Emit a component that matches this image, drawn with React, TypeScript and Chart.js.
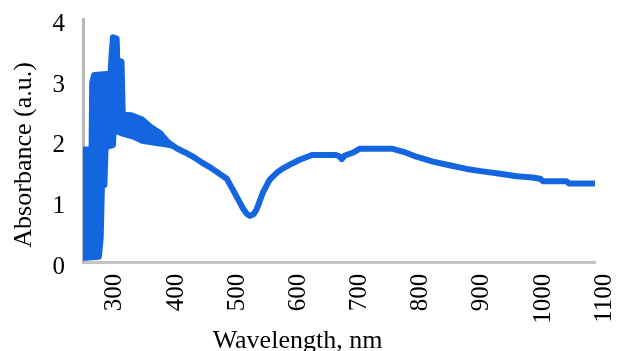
import React, { useEffect, useRef } from 'react';
import { Chart, registerables } from 'chart.js';

Chart.register(...registerables);

// Noisy UV region (248–395 nm): upper edge of the scatter band
const upperWavelengths = [248, 262, 263, 266, 293, 295, 297, 303, 304, 311, 313, 327, 345, 347, 360, 375, 387, 395];
const upperAbsorbance = [1.86, 1.86, 2.95, 3.08, 3.1, 3.45, 3.7, 3.68, 3.32, 3.3, 2.43, 2.42, 2.35, 2.33, 2.22, 2.12, 1.98, 1.92];

// Noisy UV region (248–395 nm): lower edge of the scatter band
const lowerWavelengths = [248, 274, 277, 279, 283, 285, 297, 300, 305, 313, 330, 345, 365, 385, 395];
const lowerAbsorbance = [0.08, 0.1, 0.42, 1.28, 1.28, 1.9, 1.93, 2.58, 2.15, 2.12, 2.07, 2.0, 1.97, 1.94, 1.92];

// Smooth visible / NIR region
const wavelengths = [
  395, 401, 415, 428, 440, 455, 470, 483, 493, 500, 509, 516, 521, 527, 532, 542, 553,
  565, 575, 590, 602, 615, 623, 640, 660, 667, 671, 676, 690, 700, 754, 775, 793, 820,
  847, 875, 901, 930, 957, 983, 995, 1000, 1038, 1043, 1087,
];
const absorbance = [
  1.92, 1.88, 1.81, 1.74, 1.66, 1.57, 1.47, 1.38, 1.2, 1.07, 0.9, 0.8, 0.77, 0.8, 0.88, 1.15, 1.36,
  1.48, 1.55, 1.63, 1.69, 1.74, 1.77, 1.77, 1.77, 1.75, 1.7, 1.76, 1.81, 1.87, 1.87, 1.81, 1.74, 1.66,
  1.6, 1.54, 1.5, 1.46, 1.42, 1.4, 1.38, 1.34, 1.34, 1.3, 1.3,
];

const xTickValues = [300, 400, 500, 600, 700, 800, 900, 1000, 1100];
const yTickValues = [0, 1, 2, 3, 4];
const xTitle = 'Wavelength, nm';
const yTitle = 'Absorbance (a.u.)';

const FONT = '"Liberation Serif", "Times New Roman", serif';
const BLUE = '#1466e0';

const yTitlePlugin = {
  id: 'yTitlePlugin',
  afterDraw(chart: any) {
    const { ctx, chartArea } = chart;
    ctx.save();
    ctx.translate(24, (chartArea.top + chartArea.bottom) / 2 + 14);
    ctx.rotate(-Math.PI / 2);
    ctx.font = `26px ${FONT}`;
    ctx.fillStyle = '#000';
    ctx.textAlign = 'center';
    ctx.textBaseline = 'middle';
    ctx.fillText(yTitle, 0, 0);
    ctx.restore();
  },
};

const toPoints = (xs: number[], ys: number[]) => xs.map((x, i) => ({ x, y: ys[i] }));

export default function App() {
  const ref = useRef<HTMLCanvasElement>(null);

  useEffect(() => {
    document.body.style.margin = '0';
    // closed outline of the noisy band: along the upper edge, then back along the lower edge
    const bandOutline = [
      ...toPoints(upperWavelengths, upperAbsorbance),
      ...toPoints(lowerWavelengths, lowerAbsorbance).reverse(),
    ];
    const common = {
      borderColor: BLUE,
      backgroundColor: BLUE,
      borderWidth: 6,
      pointRadius: 0,
      tension: 0,
      borderJoinStyle: 'round',
    };
    const chart = new Chart(ref.current as HTMLCanvasElement, {
      type: 'line',
      data: {
        datasets: [
          { ...common, data: bandOutline, fill: 'shape' },
          { ...common, data: toPoints(wavelengths, absorbance), fill: false },
        ],
      },
      options: {
        responsive: false,
        animation: false,
        devicePixelRatio: 1,
        layout: { padding: { top: 19, right: 23, left: 0, bottom: 0 } },
        plugins: {
          legend: { display: false },
          tooltip: { enabled: false },
          title: {
            display: true,
            position: 'bottom',
            text: xTitle,
            color: '#000',
            font: { family: FONT, size: 26, weight: 'normal', lineHeight: 1.2 },
            padding: 0,
          },
        },
        scales: {
          x: {
            type: 'linear',
            min: 248,
            max: 1085,
            afterBuildTicks: (axis: any) => {
              axis.ticks = xTickValues.map((v) => ({ value: v }));
            },
            afterFit: (s: any) => {
              s.height = 63;
              s.paddingLeft = 0;
              s.paddingRight = 0;
            },
            grid: { display: false, drawTicks: false },
            border: { display: true, color: '#c4c4c4', width: 3 },
            ticks: {
              minRotation: 90,
              maxRotation: 90,
              autoSkip: false,
              padding: 11,
              color: '#000',
              font: { family: FONT, size: 25 },
              callback: (v: any) => String(v),
            },
          },
          y: {
            type: 'linear',
            min: 0,
            max: 4,
            afterBuildTicks: (axis: any) => {
              axis.ticks = yTickValues.map((v) => ({ value: v }));
            },
            afterFit: (s: any) => {
              s.width = 83;
              s.paddingTop = 0;
              s.paddingBottom = 0;
            },
            grid: { display: false, drawTicks: false },
            border: { display: true, color: '#b8b8b8', width: 3 },
            ticks: {
              padding: 18,
              labelOffset: 5,
              color: '#000',
              font: { family: FONT, size: 25 },
              callback: (v: any) => String(v),
            },
          },
        },
      },
      plugins: [yTitlePlugin],
    } as any);
    return () => chart.destroy();
  }, []);

  return (
    <div style={{ position: 'fixed', left: 0, top: 0 }}>
      <canvas ref={ref} width={618} height={357} style={{ display: 'block' }} />
    </div>
  );
}
